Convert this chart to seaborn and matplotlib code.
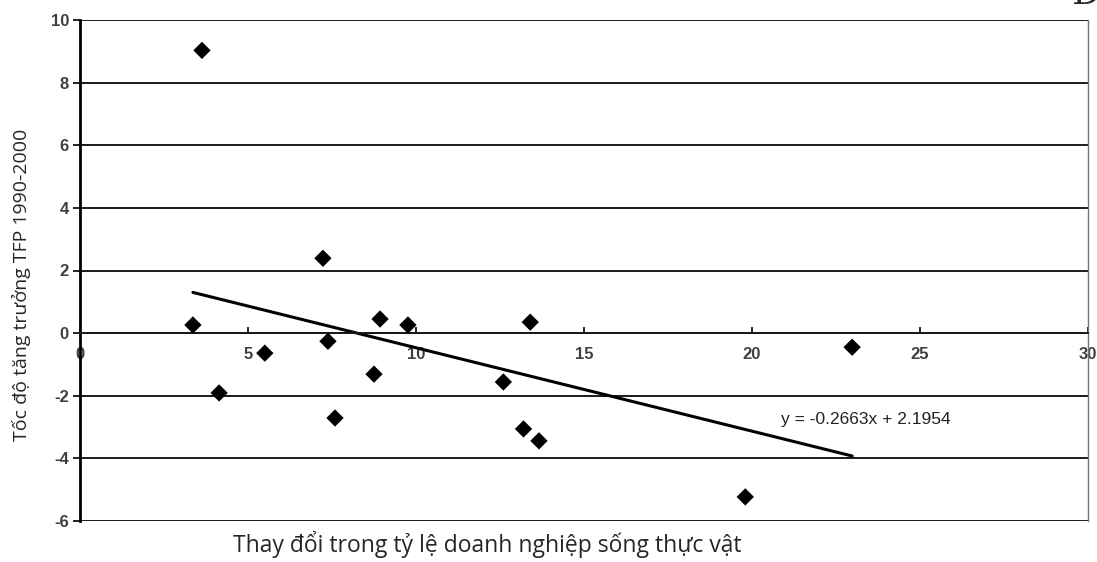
import matplotlib
matplotlib.use("Agg")
import matplotlib.pyplot as plt
import seaborn as sns
import pandas as pd

# ── Data ─────────────────────────────────────────────────────────────────────
change_share = [3.63, 3.36, 4.14, 5.5, 7.23, 7.38, 7.59, 8.75, 8.93, 9.76,
                12.6, 13.2, 13.4, 13.66, 19.8, 22.98]
tfp_growth = [9.03, 0.26, -1.91, -0.64, 2.39, -0.26, -2.71, -1.31, 0.45, 0.26,
              -1.56, -3.06, 0.35, -3.44, -5.23, -0.45]

slope = -0.2663
intercept = 2.1954

x_ticks = [0, 5, 10, 15, 20, 25, 30]
y_ticks = [-6, -4, -2, 0, 2, 4, 6, 8, 10]

df = pd.DataFrame({"x": change_share, "y": tfp_growth})
trend = pd.DataFrame({"x": [min(change_share), max(change_share)]})
trend["y"] = slope * trend["x"] + intercept

# ── Style ────────────────────────────────────────────────────────────────────
sns.set_theme(style="white")
plt.rcParams["font.family"] = ["Liberation Sans", "DejaVu Sans"]
plt.rcParams["axes.unicode_minus"] = False

fig = plt.figure(figsize=(10.97, 5.62), dpi=100)
ax = fig.add_axes([80 / 1097, 1 - 521 / 562, (1088 - 80) / 1097, (521 - 20) / 562])

# horizontal grid lines
for yv in y_ticks:
    ax.axhline(yv, color="#1a1a1a", linewidth=1.4, zorder=1)

sns.scatterplot(data=df, x="x", y="y", marker="D", s=78, color="black",
                edgecolor="none", ax=ax, zorder=3)
sns.lineplot(data=trend, x="x", y="y", color="black", linewidth=2.2, ax=ax, zorder=2)

ax.text(20.85, -2.75, f"y = {slope:.4f}x + {intercept:.4f}", fontsize=12.5,
        color="#222222", va="center", ha="left")

ax.set_xlim(0, 30)
ax.set_ylim(-6, 10)
ax.set_xticks(x_ticks)
ax.set_yticks(y_ticks)

# axis crossing at y = 0
ax.spines["bottom"].set_position(("data", 0))
ax.spines["bottom"].set_color("#1a1a1a")
ax.spines["bottom"].set_linewidth(1.4)
ax.spines["left"].set_color("black")
ax.spines["left"].set_linewidth(2.0)
ax.spines["right"].set_color("#777777")
ax.spines["right"].set_linewidth(1.0)
ax.spines["top"].set_visible(False)

ax.tick_params(axis="x", direction="in", length=4, width=1.2, color="black", pad=10,
               bottom=True, labelsize=12, labelcolor="#404040")
ax.tick_params(axis="y", direction="out", length=5, width=1.2, color="black", pad=3,
               left=True, labelsize=12, labelcolor="#404040")
for lbl in ax.get_xticklabels() + ax.get_yticklabels():
    lbl.set_fontweight("bold")

ax.set_xlabel("")
ax.set_ylabel("")
fig.text(233 / 1097, 1 - 545 / 562, "Thay đổi trong tỷ lệ doanh nghiệp sống thực vật",
         fontsize=16.5, family=["Open Sans", "DejaVu Sans"], ha="left", va="center")
fig.text(21 / 1097, 1 - 285 / 562, "Tốc độ tăng trưởng TFP 1990-2000",
         fontsize=14, family=["Open Sans", "DejaVu Sans"], rotation=90,
         ha="center", va="center")

# clipped letter at the top right corner
fig.text(1086 / 1097, 1 - 4 / 562, "D", fontsize=26, family="DejaVu Serif",
         ha="center", va="baseline")

fig.savefig("out.png", dpi=100)
